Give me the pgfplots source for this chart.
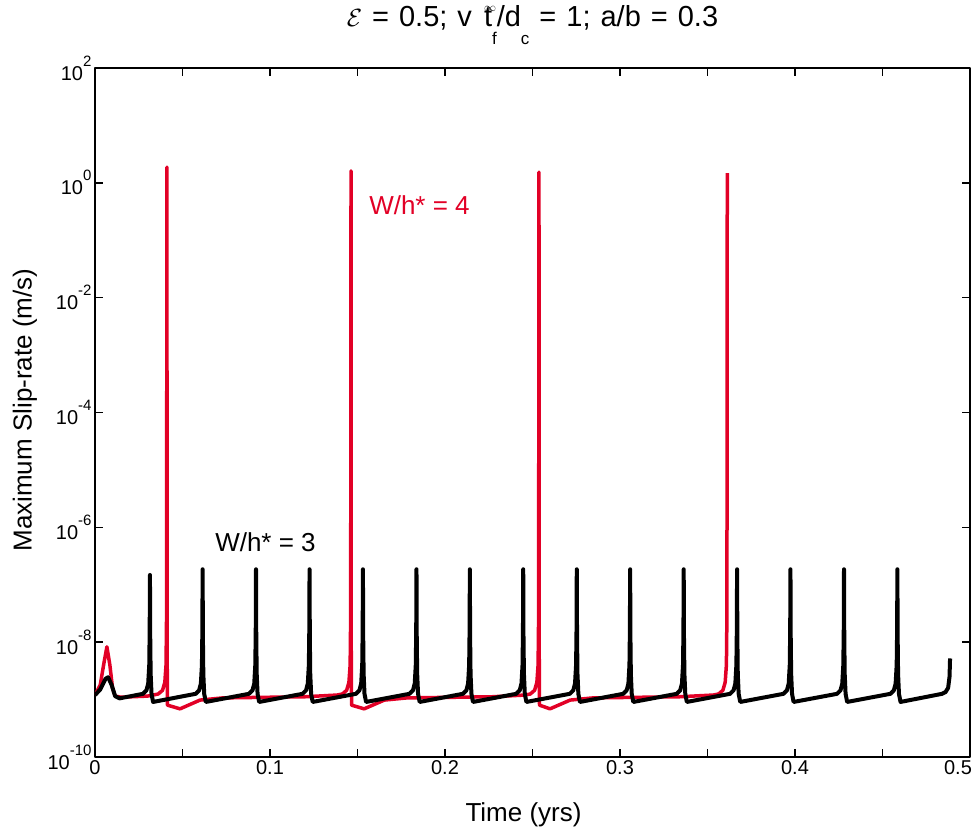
\documentclass[border=0pt]{standalone}
\usepackage{fontspec}
\setmainfont{Liberation Sans}
\usepackage{pgfplots}
\pgfplotsset{compat=1.18}
\definecolor{myred}{RGB}{226,0,38}
\newcommand\tp[1]{10\raisebox{14pt}{\fontsize{15}{15}\selectfont #1}}
\newcommand\sub[1]{\raisebox{-0.6em}{\fontsize{17}{17}\selectfont #1}}
\begin{document}
\begin{tikzpicture}
\path[use as bounding box] (-95pt,-72pt) rectangle (879pt,757pt);
\begin{axis}[at={(0pt,0pt)}, anchor=south west, width=875pt, height=689pt, scale only axis,
  xmin=0, xmax=0.5, ymode=log, ymin=1e-10, ymax=1e2,
  xtick={0,0.1,0.2,0.3,0.4,0.5}, xticklabels={0,0.1,0.2,0.3,0.4,\makebox[0pt][c]{\hspace*{-24pt}0.5}},
  minor xtick={0.05,0.15,0.25,0.35,0.45},
  ytick={1e-10,1e-8,1e-6,1e-4,1e-2,1,1e2},
  yticklabels={\tp{-10},\tp{-8},\tp{-6},\tp{-4},\tp{-2},\tp{0},\tp{2}},
  tick align=inside, major tick length=8pt, minor tick length=8pt,
  every tick/.style={line width=1.5pt, black},
  axis line style={line width=2pt},
  every tick label/.append style={font=\fontsize{20}{24}\selectfont},
  line join=round,
]
\addplot[myred, line width=3.5pt] coordinates {
(0.0000,1.2e-9)(0.0030,1.8e-9)(0.0052,4.5e-9)(0.0068,8.3e-9)(0.0085,4.0e-9)(0.0100,1.6e-9)
(0.0115,1.15e-9)(0.0150,1.1e-9)(0.0300,1.15e-9)(0.0361,1.25e-9)(0.0386,1.45e-9)(0.0399,2.0e-9)
(0.0406,4.0e-9)(0.0409,3.0e-8)(0.0411,1.88)(0.0412,1.0e-8)(0.0414,8.0e-10)(0.0486,6.9e-10)
(0.0600,9.8e-10)(0.0730,1.07e-9)(0.1200,1.12e-9)(0.1383,1.2e-9)(0.1413,1.25e-9)(0.1438,1.45e-9)
(0.1451,2.0e-9)(0.1458,4.0e-9)(0.1461,3.0e-8)(0.1463,1.61)(0.1464,1.0e-8)(0.1466,8.0e-10)
(0.1538,6.9e-10)(0.1653,9.8e-10)(0.1783,1.07e-9)(0.2270,1.12e-9)(0.2457,1.2e-9)(0.2487,1.25e-9)
(0.2512,1.45e-9)(0.2525,2.0e-9)(0.2532,4.0e-9)(0.2535,3.0e-8)(0.2537,1.54)(0.2538,1.0e-8)
(0.2540,8.0e-10)(0.2600,6.9e-10)(0.2715,9.8e-10)(0.2845,1.07e-9)(0.3340,1.12e-9)(0.3533,1.2e-9)
(0.3563,1.25e-9)(0.3588,1.45e-9)(0.3601,2.0e-9)(0.3608,4.0e-9)(0.3611,3.0e-8)(0.3613,1.48)
};
\addplot[black, line width=4pt] coordinates {
(0.0000,1.2e-9)(0.0030,1.5e-9)(0.0060,2.3e-9)(0.0075,2.45e-9)(0.0095,1.8e-9)(0.0115,1.15e-9)(0.0140,1.05e-9)
(0.0274,1.26e-9)(0.0294,1.45e-9)(0.0304,1.9e-9)(0.0310,4.0e-9)(0.03125,1.6e-8)(0.0314,1.48e-7)(0.03155,1.3e-8)(0.0318,2.8e-9)(0.0323,1.26e-9)(0.0332,9.1e-10)
(0.0575,1.26e-9)(0.0595,1.45e-9)(0.0605,1.9e-9)(0.0611,4.0e-9)(0.06135,1.6e-8)(0.0615,1.86e-7)(0.06165,1.3e-8)(0.0619,2.8e-9)(0.0624,1.26e-9)(0.0633,9.1e-10)
(0.0880,1.26e-9)(0.0900,1.45e-9)(0.0910,1.9e-9)(0.0916,4.0e-9)(0.09185,1.6e-8)(0.0920,1.86e-7)(0.09215,1.3e-8)(0.0924,2.8e-9)(0.0929,1.26e-9)(0.0938,9.1e-10)
(0.1186,1.26e-9)(0.1206,1.45e-9)(0.1216,1.9e-9)(0.1222,4.0e-9)(0.12245,1.6e-8)(0.1226,1.86e-7)(0.12275,1.3e-8)(0.1230,2.8e-9)(0.1235,1.26e-9)(0.1244,9.1e-10)
(0.1491,1.26e-9)(0.1511,1.45e-9)(0.1521,1.9e-9)(0.1527,4.0e-9)(0.15295,1.6e-8)(0.1531,1.86e-7)(0.15325,1.3e-8)(0.1535,2.8e-9)(0.1540,1.26e-9)(0.1549,9.1e-10)
(0.1797,1.26e-9)(0.1817,1.45e-9)(0.1827,1.9e-9)(0.1833,4.0e-9)(0.18355,1.6e-8)(0.1837,1.86e-7)(0.18385,1.3e-8)(0.1841,2.8e-9)(0.1846,1.26e-9)(0.1855,9.1e-10)
(0.2102,1.26e-9)(0.2122,1.45e-9)(0.2132,1.9e-9)(0.2138,4.0e-9)(0.21405,1.6e-8)(0.2142,1.86e-7)(0.21435,1.3e-8)(0.2146,2.8e-9)(0.2151,1.26e-9)(0.2160,9.1e-10)
(0.2407,1.26e-9)(0.2427,1.45e-9)(0.2437,1.9e-9)(0.2443,4.0e-9)(0.24455,1.6e-8)(0.2447,1.86e-7)(0.24485,1.3e-8)(0.2451,2.8e-9)(0.2456,1.26e-9)(0.2465,9.1e-10)
(0.2713,1.26e-9)(0.2733,1.45e-9)(0.2743,1.9e-9)(0.2749,4.0e-9)(0.27515,1.6e-8)(0.2753,1.86e-7)(0.27545,1.3e-8)(0.2757,2.8e-9)(0.2762,1.26e-9)(0.2771,9.1e-10)
(0.3018,1.26e-9)(0.3038,1.45e-9)(0.3048,1.9e-9)(0.3054,4.0e-9)(0.30565,1.6e-8)(0.3058,1.86e-7)(0.30595,1.3e-8)(0.3062,2.8e-9)(0.3067,1.26e-9)(0.3076,9.1e-10)
(0.3324,1.26e-9)(0.3344,1.45e-9)(0.3354,1.9e-9)(0.3360,4.0e-9)(0.33625,1.6e-8)(0.3364,1.86e-7)(0.33655,1.3e-8)(0.3368,2.8e-9)(0.3373,1.26e-9)(0.3382,9.1e-10)
(0.3629,1.26e-9)(0.3649,1.45e-9)(0.3659,1.9e-9)(0.3665,4.0e-9)(0.36675,1.6e-8)(0.3669,1.86e-7)(0.36705,1.3e-8)(0.3673,2.8e-9)(0.3678,1.26e-9)(0.3687,9.1e-10)
(0.3934,1.26e-9)(0.3954,1.45e-9)(0.3964,1.9e-9)(0.3970,4.0e-9)(0.39725,1.6e-8)(0.3974,1.86e-7)(0.39755,1.3e-8)(0.3978,2.8e-9)(0.3983,1.26e-9)(0.3992,9.1e-10)
(0.4240,1.26e-9)(0.4260,1.45e-9)(0.4270,1.9e-9)(0.4276,4.0e-9)(0.42785,1.6e-8)(0.4280,1.86e-7)(0.42815,1.3e-8)(0.4284,2.8e-9)(0.4289,1.26e-9)(0.4298,9.1e-10)
(0.4545,1.26e-9)(0.4565,1.45e-9)(0.4575,1.9e-9)(0.4581,4.0e-9)(0.45835,1.6e-8)(0.4585,1.86e-7)(0.45865,1.3e-8)(0.4589,2.8e-9)(0.4594,1.26e-9)(0.4603,9.1e-10)
(0.4840,1.26e-9)(0.4860,1.35e-9)(0.4875,1.6e-9)(0.4883,2.5e-9)(0.4886,5.2e-9)
};
\node[anchor=base west, text=myred, font=\fontsize{26}{30}\selectfont, inner sep=0pt] at (axis cs:0.1566,0.286) {W/h* = 4};
\node[anchor=base west, text=black, font=\fontsize{26}{30}\selectfont, inner sep=0pt] at (axis cs:0.0686,3.76e-7) {W/h* = 3};
\end{axis}
\node[anchor=base, font=\fontsize{29}{33}\selectfont] at (437.5pt,730pt)
  {\spaceskip=10pt $\mathcal{E}$ = 0.5; v\hspace{12pt}\rlap{\raisebox{15pt}{\fontsize{13}{13}\selectfont$\infty$}}t\sub{f}/d\sub{c} = 1; a/b = 0.3};
\node[anchor=base, font=\fontsize{26}{30}\selectfont] at (428.5pt,-65pt) {Time (yrs)};
\node[anchor=center, rotate=90, font=\fontsize{26}{30}\selectfont] at (-70pt,347pt) {Maximum Slip-rate (m/s)};
\end{tikzpicture}
\end{document}
